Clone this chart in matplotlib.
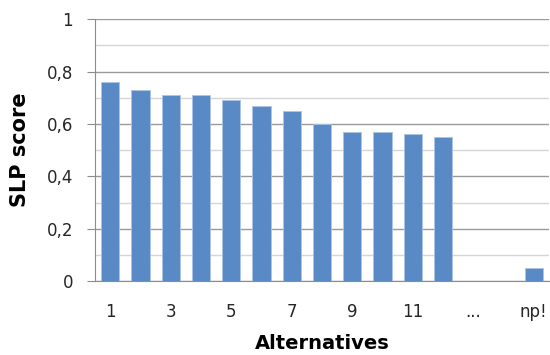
import numpy as np
import matplotlib
matplotlib.use("Agg")
import matplotlib.pyplot as plt
from matplotlib.ticker import MultipleLocator, FuncFormatter

# data
categories = ["1", "2", "3", "4", "5", "6", "7", "8", "9", "10", "11", "12",
              "...", "", "np!"]
scores = [0.76, 0.73, 0.71, 0.71, 0.69, 0.67, 0.65, 0.60, 0.57, 0.57, 0.56, 0.55,
          np.nan, np.nan, 0.05]
tick_labels = ["1", "3", "5", "7", "9", "11", "...", "np!"]

BAR = "#5A8AC6"
GRID_MAJ = "#9a9a9a"
GRID_MIN = "#d6d6d6"


def comma_fmt(v, pos):
    v = round(v, 1)
    if v == 0:
        return "0"
    if v == 1:
        return "1"
    return f"{v:.1f}".replace(".", ",")


plt.rcParams["font.family"] = ["DejaVu Sans"]

fig = plt.figure(figsize=(5.5, 3.55), dpi=100)
ax = fig.add_axes([0.173, 0.208, 0.825, 0.738])

x = np.arange(len(categories))
ax.bar(x, scores, width=0.6, color=BAR, edgecolor="#a9c4e6", linewidth=0.6,
       zorder=3)

ax.set_xlim(-0.5, len(categories) - 0.5)
ax.set_ylim(0, 1)
ax.yaxis.set_major_locator(MultipleLocator(0.2))
ax.yaxis.set_minor_locator(MultipleLocator(0.1))
ax.yaxis.set_major_formatter(FuncFormatter(comma_fmt))
ax.grid(axis="y", which="major", color=GRID_MAJ, linewidth=1.0, zorder=0)
ax.grid(axis="y", which="minor", color=GRID_MIN, linewidth=1.0, zorder=0)

tick_pos = [i for i, c in enumerate(categories) if c in tick_labels]
ax.set_xticks(tick_pos)
ax.set_xticklabels(tick_labels)

for s in ["top", "right"]:
    ax.spines[s].set_visible(False)
ax.spines["left"].set_color("#8c8c8c")
ax.spines["bottom"].set_color("#8c8c8c")
ax.tick_params(axis="y", which="major", length=6, color="#8c8c8c",
               labelsize=12, labelcolor="#262626", pad=10)
ax.tick_params(axis="y", which="minor", length=0)
ax.tick_params(axis="x", length=0, labelsize=12, labelcolor="#262626", pad=16)

ax.set_ylabel("SLP score", fontsize=15, fontweight="bold", labelpad=12)
ax.set_xlabel("Alternatives", fontsize=14, fontweight="bold", labelpad=9)

fig.savefig("out.png", dpi=100, facecolor="white")
